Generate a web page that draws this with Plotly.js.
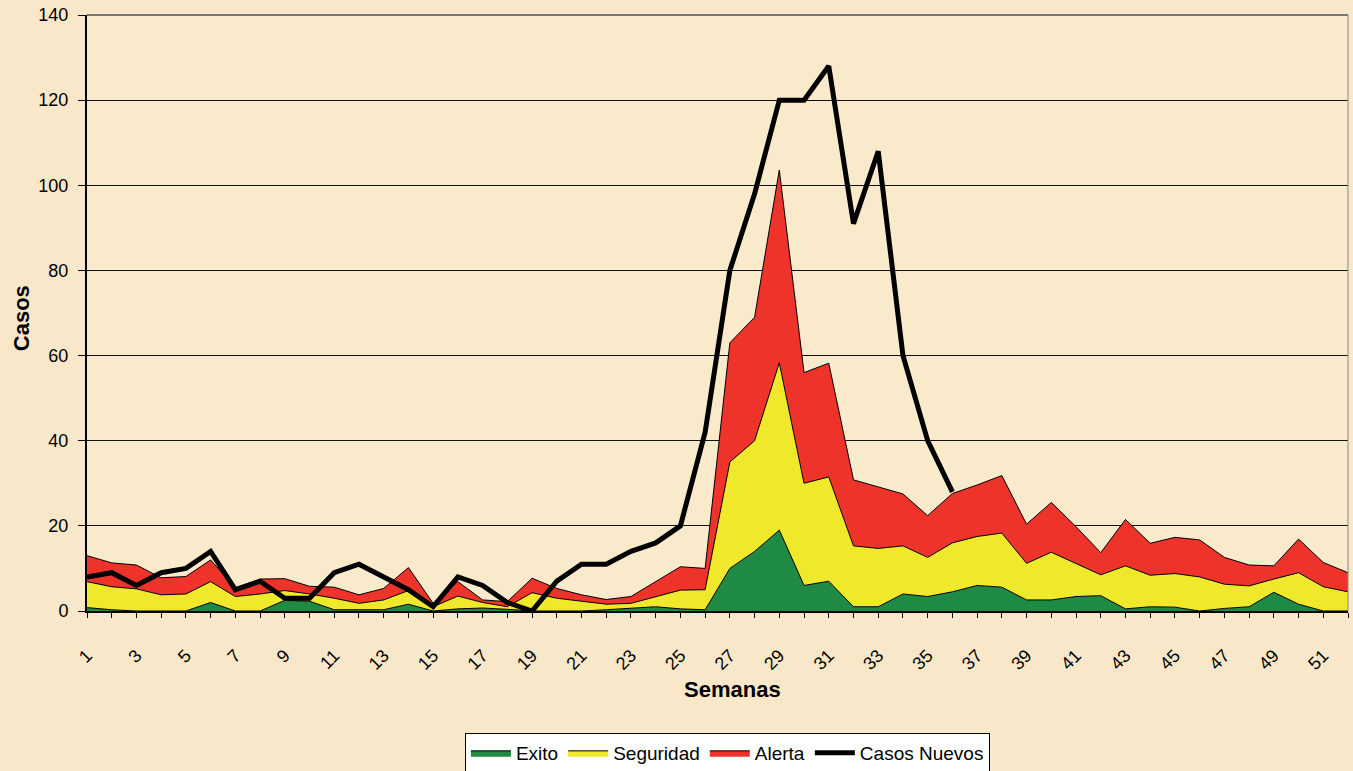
<!DOCTYPE html>
<html>
<head>
<meta charset="utf-8">
<script src="https://cdn.plot.ly/plotly-3.0.1.min.js"></script>
<style>
html,body{margin:0;padding:0;background:#f8e7c6;}
#chart{width:1353px;height:771px;}
</style>
</head>
<body>
<div id="chart"></div>
<script>
// Semanas epidemiológicas
var semanas = [1,2,3,4,5,6,7,8,9,10,11,12,13,14,15,16,17,18,19,20,21,22,23,24,25,26,27,28,29,30,31,32,33,34,35,36,37,38,39,40,41,42,43,44,45,46,47,48,49,50,51,52];
// Límite superior de la zona de éxito (cuartil inferior)
var exito = [0.8,0.3,0,0,0,2,0,0,2.5,2.3,0.3,0.3,0.3,1.6,0,0.5,0.7,0.4,0,0,0,0.3,0.6,1,0.5,0.3,10,14,19,6,7,1,1,4,3.4,4.5,6,5.6,2.6,2.6,3.4,3.6,0.5,1,0.9,0,0.6,1,4.4,1.6,0,0];
// Límite superior de la zona de seguridad (mediana)
var seguridad = [6.9,5.7,5.2,3.8,4,6.9,3.4,4,4.8,4,3,1.8,2.6,4.8,1,3.5,2,1,4.3,3,2.3,1.6,1.8,3.4,4.9,5,35,40,58.3,30,31.5,15.3,14.7,15.3,12.6,16,17.5,18.3,11.2,13.8,11.2,8.5,10.6,8.4,8.8,8,6.3,5.9,7.5,9,5.7,4.5];
// Límite superior de la zona de alerta (cuartil superior)
var alerta = [13,11.3,10.8,7.8,8.1,12,5.4,7.5,7.6,5.8,5.6,3.8,5.3,10.2,1.8,6.9,2.6,2.2,7.7,5.3,3.8,2.7,3.4,6.9,10.4,10,63,69,103.6,56,58.2,30.8,29.2,27.5,22.4,27.6,29.6,31.8,20.4,25.5,19.8,13.7,21.5,15.9,17.3,16.7,12.6,10.8,10.6,16.9,11.4,9];
// Casos nuevos del año en curso
var semanasCasos = [1,2,3,4,5,6,7,8,9,10,11,12,13,14,15,16,17,18,19,20,21,22,23,24,25,26,27,28,29,30,31,32,33,34,35,36];
var casosNuevos = [8,9,6,9,10,14,5,7,3,3,9,11,8,5,1,8,6,2,0,7,11,11,14,16,20,42,80,98,120,120,128,91,108,60,40,28];
var xTickVals = [1,3,5,7,9,11,13,15,17,19,21,23,25,27,29,31,33,35,37,39,41,43,45,47,49,51];
var yTickVals = [0,20,40,60,80,100,120,140];

var FONT = 'Arial, "Liberation Sans", sans-serif';

var traces = [
  {x: semanas, y: exito, name: 'Exito', type: 'scatter', mode: 'lines',
   fill: 'tozeroy', fillcolor: '#1f8a44', line: {color: '#000', width: 1}, hoverinfo: 'skip'},
  {x: semanas, y: seguridad, name: 'Seguridad', type: 'scatter', mode: 'lines',
   fill: 'tonexty', fillcolor: '#f0e82a', line: {color: '#000', width: 1}, hoverinfo: 'skip'},
  {x: semanas, y: alerta, name: 'Alerta', type: 'scatter', mode: 'lines',
   fill: 'tonexty', fillcolor: '#ee332b', line: {color: '#000', width: 1}, hoverinfo: 'skip'},
  {x: semanasCasos, y: casosNuevos, name: 'Casos Nuevos', type: 'scatter', mode: 'lines',
   line: {color: '#000', width: 5}, hoverinfo: 'skip'}
];

var layout = {
  width: 1353, height: 771,
  paper_bgcolor: '#f8e8c9',
  plot_bgcolor: '#f9eacc',
  margin: {l: 87, r: 5, t: 15, b: 160, autoexpand: false},
  font: {family: FONT, color: '#000', size: 18},
  showlegend: true,
  legend: {
    orientation: 'h', x: 0.2997, xanchor: 'left', y: -0.2047, yanchor: 'top',
    bgcolor: '#ffffff', bordercolor: '#000', borderwidth: 1,
    font: {family: FONT, size: 19, color: '#000'},
    traceorder: 'normal', itemwidth: 40
  },
  xaxis: {
    range: [1, 52], tickmode: 'array', tickvals: xTickVals,
    ticktext: xTickVals.map(String),
    tickangle: -45, ticks: 'outside', ticklen: 5, tickcolor: '#000', tickwidth: 1,
    ticklabelstandoff: 20,
    minor: {dtick: 1, tick0: 1, ticks: 'outside', ticklen: 5, tickcolor: '#000', tickwidth: 1, showgrid: false},
    showline: true, linecolor: '#000', linewidth: 2,
    showgrid: false, zeroline: false,
    tickfont: {family: FONT, size: 18, color: '#000'}
  },
  yaxis: {
    range: [0, 140], tickmode: 'array', tickvals: yTickVals,
    ticks: 'outside', ticklen: 7, tickcolor: '#000', tickwidth: 1,
    ticklabelstandoff: 6,
    showline: true, linecolor: '#000', linewidth: 2,
    showgrid: true, gridcolor: '#111', gridwidth: 1, zeroline: false,
    tickfont: {family: FONT, size: 18, color: '#000'}
  },
  shapes: [
    {type: 'line', xref: 'paper', yref: 'paper', x0: 1, x1: 1, y0: 0, y1: 1,
     line: {color: '#888', width: 1}},
    {type: 'line', xref: 'paper', yref: 'paper', x0: 0, x1: 1, y0: 1, y1: 1,
     line: {color: '#777', width: 2}}
  ],
  annotations: [
    {text: '<b>Semanas</b>', xref: 'paper', yref: 'paper', x: 0.5115, y: -0.132,
     xanchor: 'center', yanchor: 'middle', showarrow: false,
     font: {family: FONT, size: 22, color: '#000'}},
    {text: '<b>Casos</b>', xref: 'paper', yref: 'paper', x: -0.052, y: 0.492,
     xanchor: 'center', yanchor: 'middle', textangle: -90, showarrow: false,
     font: {family: FONT, size: 22, color: '#000'}}
  ]
};

Plotly.newPlot('chart', traces, layout, {displayModeBar: false, staticPlot: true});
</script>
</body>
</html>
